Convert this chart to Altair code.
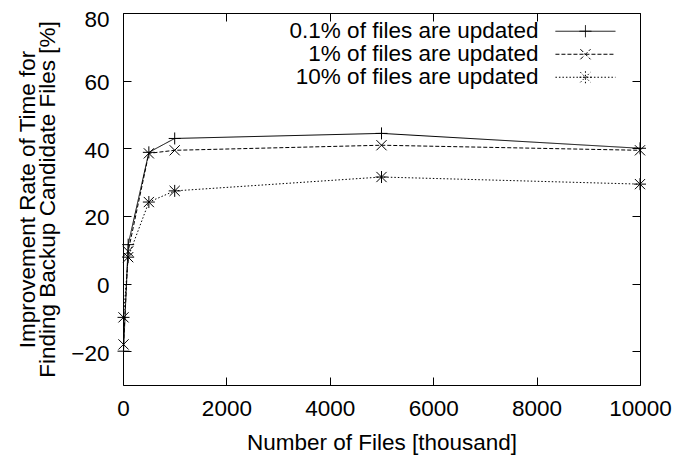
import altair as alt
import pandas as pd

# ---- data ----
files = [10, 100, 500, 1000, 5000, 10000]  # thousand
series_names = [
    "0.1% of files are updated",
    "1% of files are updated",
    "10% of files are updated",
]
rate_01 = [-20.0, 11.5, 38.8, 42.9, 44.4, 40.0]
rate_1 = [-18.0, 9.5, 38.5, 39.4, 40.9, 39.4]
rate_10 = [-10.0, 7.8, 24.1, 27.4, 31.5, 29.4]

x_ticks = [0, 2000, 4000, 6000, 8000, 10000]
y_ticks = [-20, 0, 20, 40, 60, 80]

df = pd.DataFrame({
    "files": files * 3,
    "rate": rate_01 + rate_1 + rate_10,
    "series": [s for s in series_names for _ in files],
})

# ---- styles ----
FONT = "Liberation Sans"
FS = 22.5
plus = "M-1,0L1,0M0,-1L0,1"
cross = "M-0.85,-0.85L0.85,0.85M-0.85,0.85L0.85,-0.85"
star = plus + cross
markers = [plus, cross, star]
# legend glyph: line + marker, drawn to the right of the label
legend_markers = [
    "M8.7,0L10.7,0M9.7,-1L9.7,1",
    "M8.85,-0.85L10.55,0.85M8.85,0.85L10.55,-0.85",
    "M8.7,0L10.7,0M9.7,-1L9.7,1M8.85,-0.85L10.55,0.85M8.85,0.85L10.55,-0.85",
]
legend_paths = ["M4.7,0L14.7,0" + m for m in legend_markers]
dashes = [[1, 0], [4, 2], [1.5, 2]]

x_scale = alt.Scale(domain=[0, 10000], nice=False, zero=False)
y_scale = alt.Scale(domain=[-30, 80], nice=False, zero=False)

tick_common = dict(
    domain=False, grid=False, offset=-8, tickSize=8, tickColor="black",
    tickWidth=1, labelColor="black", labelFont=FONT, labelFontSize=FS,
    labelFlush=False, labelOverlap=False,
    titleFont=FONT, titleFontSize=FS, titleFontWeight="normal",
    titleColor="black",
)

base = alt.Chart(df)

lines = base.mark_line(color="black", strokeWidth=1).encode(
    x=alt.X("files:Q", scale=x_scale,
            axis=alt.Axis(orient="bottom", values=x_ticks, format="d",
                          title="Number of Files [thousand]",
                          labelPadding=12, titlePadding=12,
                          **tick_common)),
    y=alt.Y("rate:Q", scale=y_scale,
            axis=alt.Axis(orient="left", values=y_ticks, format="d",
                          title=["Improvement Rate of Time for",
                                 "Finding Backup Candidate Files [%]"],
                          labelPadding=14, titlePadding=11,
                          labelOffset={"condition": {"test": "datum.value === 80",
                                                     "value": 6.5},
                                       "value": 2},
                          titleLineHeight=20, **tick_common)),
    strokeDash=alt.StrokeDash("series:N",
                              scale=alt.Scale(domain=series_names, range=dashes),
                              legend=None),
)

points = base.mark_point(filled=False, color="black", strokeWidth=1,
                         size=144, opacity=1).encode(
    x=alt.X("files:Q", scale=x_scale,
            axis=alt.Axis(orient="top", values=x_ticks, labels=False,
                          title=None, **tick_common)),
    y=alt.Y("rate:Q", scale=y_scale,
            axis=alt.Axis(orient="right", values=y_ticks, labels=False,
                          title=None, **tick_common)),
    shape=alt.Shape("series:N",
                    scale=alt.Scale(domain=series_names, range=markers),
                    legend=None),
)

leg = alt.Legend(
    orient="none", legendX=393, legendY=7, title=None,
    labelFont=FONT, labelFontSize=FS, labelColor="black",
    labelAlign="right", labelOffset=0, labelLimit=500,
    symbolSize=144, symbolStrokeWidth=1, symbolStrokeColor="black",
    symbolFillColor="transparent", padding=0, rowPadding=0,
)

legend_layer = base.transform_filter("false").mark_point(
    filled=False, color="black", strokeWidth=1, size=144, opacity=1
).encode(
    x=alt.X("files:Q", scale=x_scale, axis=None),
    y=alt.Y("rate:Q", scale=y_scale, axis=None),
    shape=alt.Shape("series:N",
                    scale=alt.Scale(domain=series_names, range=legend_paths),
                    legend=leg),
    strokeDash=alt.StrokeDash("series:N",
                              scale=alt.Scale(domain=series_names, range=dashes),
                              legend=leg),
)

chart = alt.layer(lines, points, legend_layer).resolve_scale(
    shape="independent", strokeDash="independent"
).resolve_axis(
    x="independent", y="independent"
).properties(
    width=517, height=372,
    autosize=alt.AutoSizeParams(type="none"),
    padding={"left": 115, "top": 5, "right": 46, "bottom": 72},
).configure_view(stroke="black", strokeWidth=1)

chart.save("out.html", embed_options={"renderer": "svg", "actions": False})
